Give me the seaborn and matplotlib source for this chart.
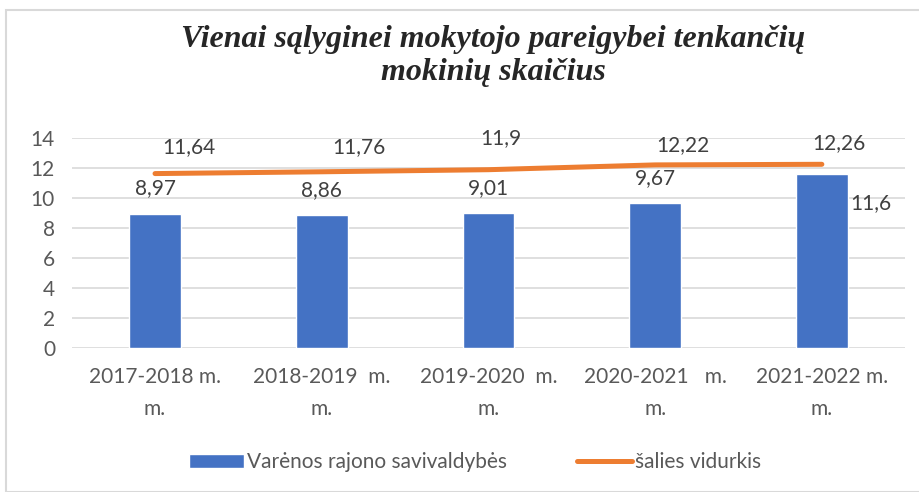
import matplotlib.pyplot as plt
import numpy as np
import pandas as pd
import seaborn as sns
from matplotlib.patches import Rectangle

# chart data
years = ["2017-2018 m.\nm.", "2018-2019  m.\nm.", "2019-2020  m.\nm.",
         "2020-2021   m.\nm.", "2021-2022 m.\nm."]
varena = [8.97, 8.86, 9.01, 9.67, 11.6]
national = [11.64, 11.76, 11.9, 12.22, 12.26]
varena_labels = ["8,97", "8,86", "9,01", "9,67", "11,6"]
national_labels = ["11,64", "11,76", "11,9", "12,22", "12,26"]

# label placement (pixels from the point) copied from the original chart
NAT_OFFSETS = [(34, 26), (37, 25), (12, 32), (28, 20), (17, 21)]

BLUE = "#4472C4"
ORANGE = "#ED7D31"
GRID = "#D9D9D9"
TICK = "#595959"
LABEL = "#404040"
FS = 15

sns.set_theme(style="white")
plt.rcParams["font.family"] = ["Lato", "DejaVu Sans"]

df = pd.DataFrame({"year": years, "varena": varena, "national": national,
                   "pos": np.arange(len(years))})

fig = plt.figure(figsize=(9.19, 4.92), dpi=100)
ax = fig.add_axes([0.078, 0.293, 0.907, 0.426])

sns.barplot(data=df, x="year", y="varena", color=BLUE, width=0.31,
            saturation=1, label="Varėnos rajono savivaldybės", ax=ax, zorder=2)
sns.lineplot(data=df, x="pos", y="national", color=ORANGE, linewidth=3.6,
             solid_capstyle="round", label="šalies vidurkis", ax=ax, zorder=3)

ax.set_ylim(0, 14)
ax.set_xlim(-0.5, len(years) - 0.5)
ax.set_yticks(range(0, 15, 2))
ax.yaxis.grid(True, color=GRID, linewidth=1.2, zorder=0)
ax.set_axisbelow(True)
for s in ax.spines.values():
    s.set_visible(False)
ax.set_xlabel("")
ax.set_ylabel("")
ax.tick_params(axis="both", length=0, labelsize=FS, labelcolor=TICK)
ax.tick_params(axis="x", pad=14)
for t in ax.get_xticklabels():
    t.set_linespacing(1.75)
ax.tick_params(axis="y", pad=12)
ax.get_legend().remove()

# data labels
for i, (v, lab) in enumerate(zip(varena, varena_labels)):
    if i == len(varena) - 1:
        ax.annotate(lab, (i, v), xytext=(28, -29), textcoords="offset pixels",
                    ha="left", va="center", fontsize=FS, color=LABEL)
    else:
        ax.annotate(lab, (i, v), xytext=(0, 25), textcoords="offset pixels",
                    ha="center", va="center", fontsize=FS, color=LABEL)
for i, (v, lab) in enumerate(zip(national, national_labels)):
    ax.annotate(lab, (i, v), xytext=NAT_OFFSETS[i], textcoords="offset pixels",
                ha="center", va="center", fontsize=FS, color=LABEL)

fig.text(0.537, 0.886, "Vienai sąlyginei mokytojo pareigybei tenkančių\nmokinių skaičius",
         ha="center", va="center", fontsize=23, fontweight="bold", fontstyle="italic",
         family=["Liberation Serif", "DejaVu Serif"], linespacing=1.15)

handles, labels = ax.get_legend_handles_labels()
order = [labels.index("Varėnos rajono savivaldybės"), labels.index("šalies vidurkis")]
fig.legend([handles[k] for k in order], [labels[k] for k in order],
           loc="center", bbox_to_anchor=(0.517, 0.06), ncol=2,
           frameon=False, fontsize=FS, labelcolor=TICK, handlelength=2.6,
           handleheight=0.7, handletextpad=0.15, columnspacing=3.4)

fig.patches.append(Rectangle((6 / 919, 0), 1, 1 - 10 / 492, transform=fig.transFigure,
                             fill=False, edgecolor=GRID, linewidth=1.5))

fig.savefig("out.png", dpi=100)
